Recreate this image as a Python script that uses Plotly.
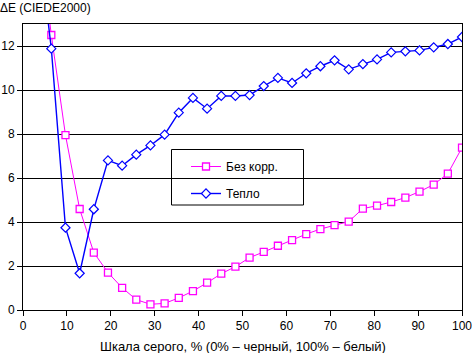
import plotly.graph_objects as go

steps = list(range(1, 32))
x_vals = [i * 100 / 31 for i in steps]

bez_korr = [17.8, 12.5, 7.95, 4.59, 2.61, 1.70, 1.01, 0.47, 0.26, 0.30, 0.55, 0.86,
            1.24, 1.65, 1.97, 2.38, 2.64, 2.92, 3.18, 3.45, 3.68, 3.86, 4.02, 4.61,
            4.74, 4.91, 5.11, 5.38, 5.70, 6.20, 7.38]
teplo = [17.3, 11.88, 3.74, 1.67, 4.58, 6.80, 6.56, 7.06, 7.48, 7.97, 8.97, 9.64,
         9.15, 9.73, 9.73, 9.77, 10.18, 10.55, 10.32, 10.76, 11.08, 11.35, 10.94,
         11.18, 11.39, 11.71, 11.76, 11.80, 11.94, 12.09, 12.41]

names = ["Без корр.", "Тепло"]
title_text = "ΔE (CIEDE2000)"
xtitle = "Шкала серого, % (0% – черный, 100% – белый)"

FONT = "Liberation Sans, Arial, sans-serif"

fig = go.Figure()
fig.add_trace(go.Scatter(
    x=x_vals, y=bez_korr, name=names[0], mode="lines+markers", legendgroup="a",
    line=dict(color="#FF00FF", width=1),
    marker=dict(symbol="square", size=7, color="white",
                line=dict(color="#FF00FF", width=1.3)),
))
fig.add_trace(go.Scatter(
    x=x_vals, y=teplo, name=names[1], mode="lines+markers", legendgroup="b",
    line=dict(color="#0000FF", width=1.4),
    marker=dict(symbol="diamond", size=7, color="white",
                line=dict(color="#0000FF", width=1.2)),
))

fig.add_shape(type="rect", xref="paper", yref="paper",
              x0=(171.5 - 23) / 439, x1=(303.5 - 23) / 439,
              y0=(310 - 205) / 286, y1=(310 - 149.5) / 286,
              line=dict(color="black", width=1), fillcolor="white", layer="between")

fig.add_annotation(text=xtitle, xref="paper", yref="paper", x=0.5, y=(310 - 346) / 286,
                   xanchor="center", yanchor="middle", showarrow=False,
                   font=dict(size=13, family=FONT, color="black"))

fig.update_layout(
    width=472, height=353,
    margin=dict(l=23, r=10, t=24, b=43),
    paper_bgcolor="white", plot_bgcolor="white",
    font=dict(family=FONT, size=12, color="black"),
    title=dict(text=title_text, x=0.0, xref="container", xanchor="left",
               y=1 - 8 / 353, yref="container", yanchor="middle",
               font=dict(size=12, family=FONT, color="black"), pad=dict(l=0)),
    legend=dict(x=(186 - 23) / 439, y=(310 - 152) / 286, xanchor="left", yanchor="top",
                bgcolor="rgba(0,0,0,0)", borderwidth=0, tracegroupgap=8,
                font=dict(size=12, family=FONT)),
    xaxis=dict(range=[0, 100], dtick=10, tick0=0, showgrid=False,
               showline=True, linecolor="black", linewidth=1, mirror=True,
               ticks="outside", ticklen=5, tickcolor="black", ticklabeloverflow="allow",
               zeroline=False, automargin=False),
    yaxis=dict(range=[0, 13], dtick=2, tick0=0, showgrid=True, gridcolor="black", gridwidth=1,
               showline=True, linecolor="black", linewidth=1, mirror=True,
               ticks="outside", ticklen=5, tickcolor="black",
               zeroline=False, automargin=False),
)

fig.write_html("out.html")
